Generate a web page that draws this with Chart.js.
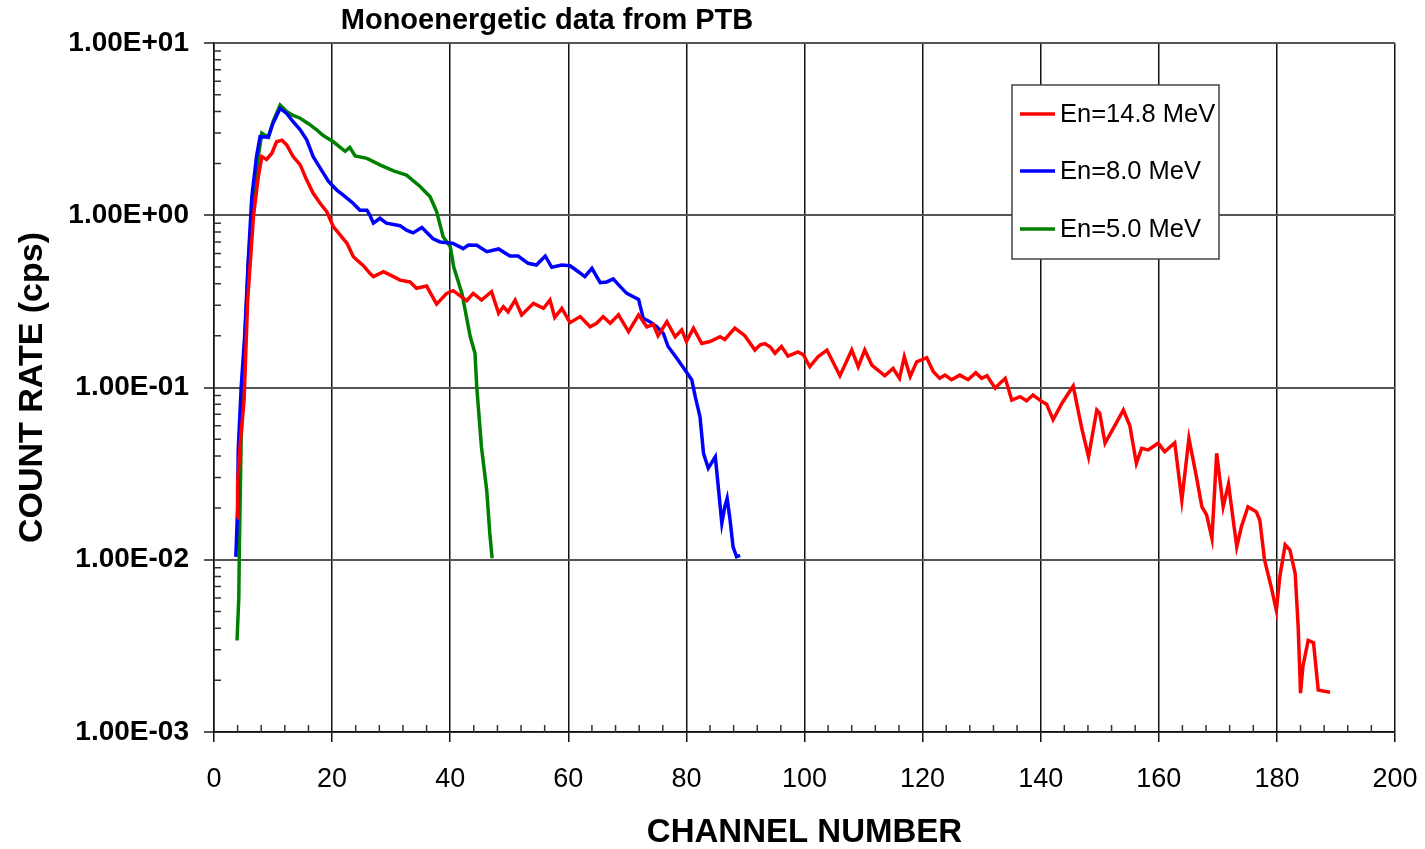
<!DOCTYPE html>
<html>
<head>
<meta charset="utf-8">
<script src="https://cdn.jsdelivr.net/npm/chart.js@4/dist/chart.umd.min.js"></script>
<style>
  html, body { margin: 0; padding: 0; background: #fff; }
  #wrap { width: 1425px; height: 849px; }
</style>
</head>
<body>
<div id="wrap"><canvas id="chart"></canvas></div>
<script>
// Monoenergetic neutron response
const redCh = [3.9, 4.0, 4.5, 5.1, 5.7, 6.7, 7.5, 8.1, 8.9, 9.8, 10.6, 11.5, 12.3, 13.4, 14.6, 15.7, 16.8, 18.0, 19.1, 20.2,
  21.9, 22.5, 23.6, 24.2, 25.3, 26.4, 27.0, 28.7, 30.4, 31.5, 33.2, 34.3, 36.0, 37.7, 39.4, 40.5, 42.8, 43.9, 45.3, 47.0,
  48.2, 49.0, 49.8, 51.0, 52.1, 54.1, 55.8, 56.9, 57.7, 58.9, 60.3, 62.0, 63.7, 64.8, 65.9, 67.1, 68.5, 70.2, 71.9, 73.3,
  74.4, 75.2, 76.7, 78.1, 79.2, 80.0, 81.2, 82.6, 84.0, 85.7, 86.5, 88.2, 89.9, 91.6, 92.5, 93.3, 94.2, 95.0, 96.1, 97.2,
  98.9, 99.8, 100.9, 102.3, 103.8, 106.0, 108.0, 109.1, 110.2, 111.4, 113.6, 115.0, 116.1, 116.9, 117.9, 119.0, 120.7, 121.8, 122.9, 123.8,
  124.9, 126.3, 127.7, 129.0, 130.0, 130.9, 132.3, 133.1, 134.0, 135.1, 136.5, 137.6, 138.7, 140.2, 141.0, 142.1, 143.6, 145.5, 146.9, 148.1,
  149.5, 150.0, 150.9, 152.6, 154.0, 155.1, 156.2, 157.1, 158.2, 159.9, 161.0, 162.7, 163.9, 165.1, 166.4, 167.3, 168.1, 169.0, 169.8, 170.9,
  171.8, 173.2, 174.0, 175.1, 176.5, 177.1, 177.9, 179.1, 179.9, 180.5, 181.4, 182.2, 183.1, 183.6, 184.0, 184.4, 185.3, 186.2, 187.0, 189.0];
const redRate = [0.0175, 0.028, 0.05, 0.085, 0.32, 1.0, 1.67, 2.19, 2.11, 2.29, 2.67, 2.73, 2.56, 2.19, 1.96, 1.60, 1.34, 1.17, 1.05, 0.86,
  0.73, 0.69, 0.575, 0.55, 0.51, 0.46, 0.44, 0.47, 0.44, 0.42, 0.41, 0.377, 0.388, 0.305, 0.352, 0.365, 0.319, 0.352, 0.322, 0.36,
  0.27, 0.294, 0.275, 0.322, 0.264, 0.308, 0.288, 0.322, 0.255, 0.288, 0.238, 0.258, 0.225, 0.236, 0.258, 0.236, 0.264, 0.211, 0.264, 0.225,
  0.232, 0.20, 0.241, 0.197, 0.216, 0.185, 0.221, 0.18, 0.185, 0.197, 0.19, 0.221, 0.20, 0.165, 0.177, 0.18, 0.172, 0.158, 0.173, 0.152,
  0.161, 0.155, 0.132, 0.151, 0.165, 0.117, 0.165, 0.132, 0.165, 0.135, 0.117, 0.129, 0.113, 0.151, 0.116, 0.141, 0.149, 0.124, 0.113, 0.118,
  0.111, 0.118, 0.111, 0.122, 0.113, 0.117, 0.099, 0.106, 0.113, 0.0845, 0.0885, 0.0838, 0.0904, 0.0828, 0.080, 0.065, 0.081, 0.102, 0.059, 0.0396,
  0.074, 0.0708, 0.0475, 0.0605, 0.074, 0.06, 0.0363, 0.0444, 0.0434, 0.0475, 0.0424, 0.0478, 0.0222, 0.0507, 0.030, 0.0203, 0.0182, 0.0133, 0.0415, 0.0203,
  0.0275, 0.0119, 0.0156, 0.0203, 0.019, 0.017, 0.010, 0.0068, 0.0051, 0.008, 0.0122, 0.0114, 0.0083, 0.0041, 0.00168, 0.0024, 0.0034, 0.0033, 0.00175, 0.0017];

const blueCh = [3.7, 4.0, 4.1, 4.6, 5.2, 5.8, 6.4, 7.2, 7.8, 9.2, 10.0, 11.2, 12.3, 13.4, 14.6, 15.7, 16.8, 18.2, 19.4, 20.8,
  21.9, 23.6, 24.7, 25.9, 26.4, 27.0, 28.1, 29.2, 31.5, 32.6, 33.7, 35.2, 37.1, 38.3, 40.5, 42.2, 43.1, 44.5, 46.2, 48.2,
  50.1, 51.5, 53.2, 54.6, 56.1, 57.2, 58.9, 60.3, 61.7, 62.8, 64.0, 65.4, 66.5, 67.6, 68.8, 69.9, 71.9, 72.7, 73.8, 75.0,
  76.1, 76.9, 78.5, 80.0, 80.9, 81.5, 82.3, 82.9, 83.7, 84.9, 85.4, 86.0, 86.5, 86.9, 87.4, 87.9, 88.5, 89.1];
const blueRate = [0.0104, 0.02, 0.043, 0.1, 0.2, 0.55, 1.28, 2.19, 2.86, 2.84, 3.42, 4.17, 3.9, 3.49, 3.13, 2.74, 2.19, 1.83, 1.57, 1.40,
  1.31, 1.17, 1.07, 1.07, 1.0, 0.90, 0.96, 0.90, 0.87, 0.82, 0.79, 0.85, 0.73, 0.70, 0.687, 0.64, 0.672, 0.67, 0.615, 0.637,
  0.58, 0.58, 0.526, 0.514, 0.58, 0.499, 0.514, 0.509, 0.47, 0.44, 0.492, 0.406, 0.41, 0.427, 0.385, 0.352, 0.325, 0.252, 0.241, 0.225,
  0.206, 0.173, 0.146, 0.123, 0.111, 0.0885, 0.0677, 0.0415, 0.034, 0.0396, 0.0265, 0.0163, 0.0203, 0.0227, 0.017, 0.0119, 0.0104, 0.0106];

const greenCh = [3.9, 4.2, 4.3, 4.6, 5.25, 5.9, 6.6, 7.5, 8.1, 9.2, 10.0, 11.2, 12.3, 13.4, 14.6, 16.0, 17.4, 18.5, 20.2, 22.2,
  23.0, 23.9, 25.9, 28.1, 30.4, 32.6, 34.9, 36.6, 37.7, 38.8, 40.0, 40.6, 42.0, 43.4, 44.2, 44.5, 45.3, 46.2, 46.7, 47.1];
const greenRate = [0.0034, 0.006, 0.012, 0.05, 0.2, 0.6, 1.05, 2.19, 3.0, 2.84, 3.5, 4.36, 4.0, 3.8, 3.66, 3.4, 3.13, 2.9, 2.67, 2.35,
  2.48, 2.21, 2.14, 1.96, 1.81, 1.71, 1.47, 1.28, 1.05, 0.75, 0.66, 0.50, 0.35, 0.197, 0.158, 0.10, 0.045, 0.025, 0.0143, 0.0102];

const seriesNames = ['En=14.8 MeV', 'En=8.0 MeV', 'En=5.0 MeV'];
const seriesColors = ['#ff0000', '#0000ff', '#008000'];
const yTickValues = [0.001, 0.01, 0.1, 1, 10];
const chartTitle = 'Monoenergetic data from PTB';
const xTitle = 'CHANNEL NUMBER';
const yTitle = 'COUNT RATE (cps)';

function toPoints(xs, ys) {
  return xs.map((x, i) => ({ x: x, y: ys[i] }));
}

function expLabel(v) {
  const exp = Math.round(Math.log10(v));
  const sign = exp < 0 ? '-' : '+';
  return '1.00E' + sign + String(Math.abs(exp)).padStart(2, '0');
}

// minor ticks, title and boxed legend like the original spreadsheet plot
const decorPlugin = {
  id: 'decor',
  beforeDatasetsDraw(chart) {
    const ctx = chart.ctx;
    const xs = chart.scales.x;
    const ys = chart.scales.y;
    const area = chart.chartArea;
    ctx.save();
    ctx.strokeStyle = '#333';
    ctx.lineWidth = 1.5;
    ctx.beginPath();
    for (let v = 4; v < 200; v += 4) {
      if (v % 20 === 0) continue;
      const px = xs.getPixelForValue(v);
      ctx.moveTo(px, area.bottom);
      ctx.lineTo(px, area.bottom - 7);
    }
    for (let d = 0.001; d < 10; d *= 10) {
      for (let m = 2; m <= 9; m++) {
        const py = ys.getPixelForValue(d * m);
        ctx.moveTo(area.left, py);
        ctx.lineTo(area.left + 7, py);
      }
    }
    ctx.stroke();
    ctx.restore();
  },
  afterDraw(chart) {
    const ctx = chart.ctx;
    ctx.save();
    ctx.fillStyle = '#000';
    ctx.font = 'bold 29px Arial, "Liberation Sans", sans-serif';
    ctx.textAlign = 'center';
    ctx.textBaseline = 'middle';
    ctx.fillText(chartTitle, 547, 21);

    // legend box
    const bx = 1012, by = 85, bw = 207, bh = 174;
    ctx.fillStyle = '#fff';
    ctx.fillRect(bx, by, bw, bh);
    ctx.strokeStyle = '#444';
    ctx.lineWidth = 1.5;
    ctx.strokeRect(bx, by, bw, bh);
    ctx.font = '25.5px Arial, "Liberation Sans", sans-serif';
    ctx.textAlign = 'left';
    const rows = [114, 171, 229];
    seriesNames.forEach((name, i) => {
      ctx.strokeStyle = seriesColors[i];
      ctx.lineWidth = 3.5;
      ctx.beginPath();
      ctx.moveTo(1020, rows[i]);
      ctx.lineTo(1055, rows[i]);
      ctx.stroke();
      ctx.fillStyle = '#000';
      ctx.fillText(name, 1060, rows[i] + 1);
    });
    ctx.restore();
  }
};

const datasets = [
  toPoints(redCh, redRate),
  toPoints(blueCh, blueRate),
  toPoints(greenCh, greenRate)
].map((pts, i) => ({
  label: seriesNames[i],
  data: pts,
  borderColor: seriesColors[i],
  backgroundColor: seriesColors[i],
  borderWidth: 3.5,
  pointRadius: 0,
  tension: 0,
  fill: false
}));

new Chart(document.getElementById('chart'), {
  type: 'line',
  data: { datasets: datasets },
  options: {
    responsive: true,
    maintainAspectRatio: false,
    animation: false,
    layout: { padding: { left: 0, top: 43, right: 30, bottom: 0 } },
    plugins: {
      legend: { display: false },
      title: { display: false },
      tooltip: { enabled: false }
    },
    scales: {
      x: {
        type: 'linear',
        min: 0,
        max: 200,
        afterFit: function(scale) {
          scale.height = 117;
          scale.paddingLeft = 0;
          scale.paddingRight = 0;
        },
        ticks: {
          stepSize: 20,
          color: '#000',
          padding: 21,
          maxRotation: 0,
          font: { family: 'Arial, "Liberation Sans", sans-serif', size: 27 }
        },
        grid: { color: '#111', lineWidth: 1.5, tickLength: 10 },
        border: { color: '#111', width: 1.5 },
        title: {
          display: true,
          text: xTitle,
          color: '#000',
          padding: 0,
          font: { family: 'Arial, "Liberation Sans", sans-serif', size: 33, weight: 'bold', lineHeight: 1 }
        }
      },
      y: {
        type: 'logarithmic',
        min: 0.001,
        max: 10,
        afterFit: function(scale) { scale.width = 214; },
        afterBuildTicks: function(scale) {
          scale.ticks = yTickValues.map(v => ({ value: v, major: true }));
        },
        ticks: {
          color: '#000',
          padding: 15,
          callback: function(v) { return expLabel(v); },
          font: { family: 'Arial, "Liberation Sans", sans-serif', size: 28, weight: 'bold' }
        },
        grid: { color: '#555', lineWidth: 2, tickLength: 10 },
        border: { color: '#111', width: 1.5 },
        title: {
          display: true,
          text: yTitle,
          color: '#000',
          padding: { top: 16, bottom: 0 },
          font: { family: 'Arial, "Liberation Sans", sans-serif', size: 34, weight: 'bold', lineHeight: 1 }
        }
      }
    }
  },
  plugins: [decorPlugin]
});
</script>
</body>
</html>
